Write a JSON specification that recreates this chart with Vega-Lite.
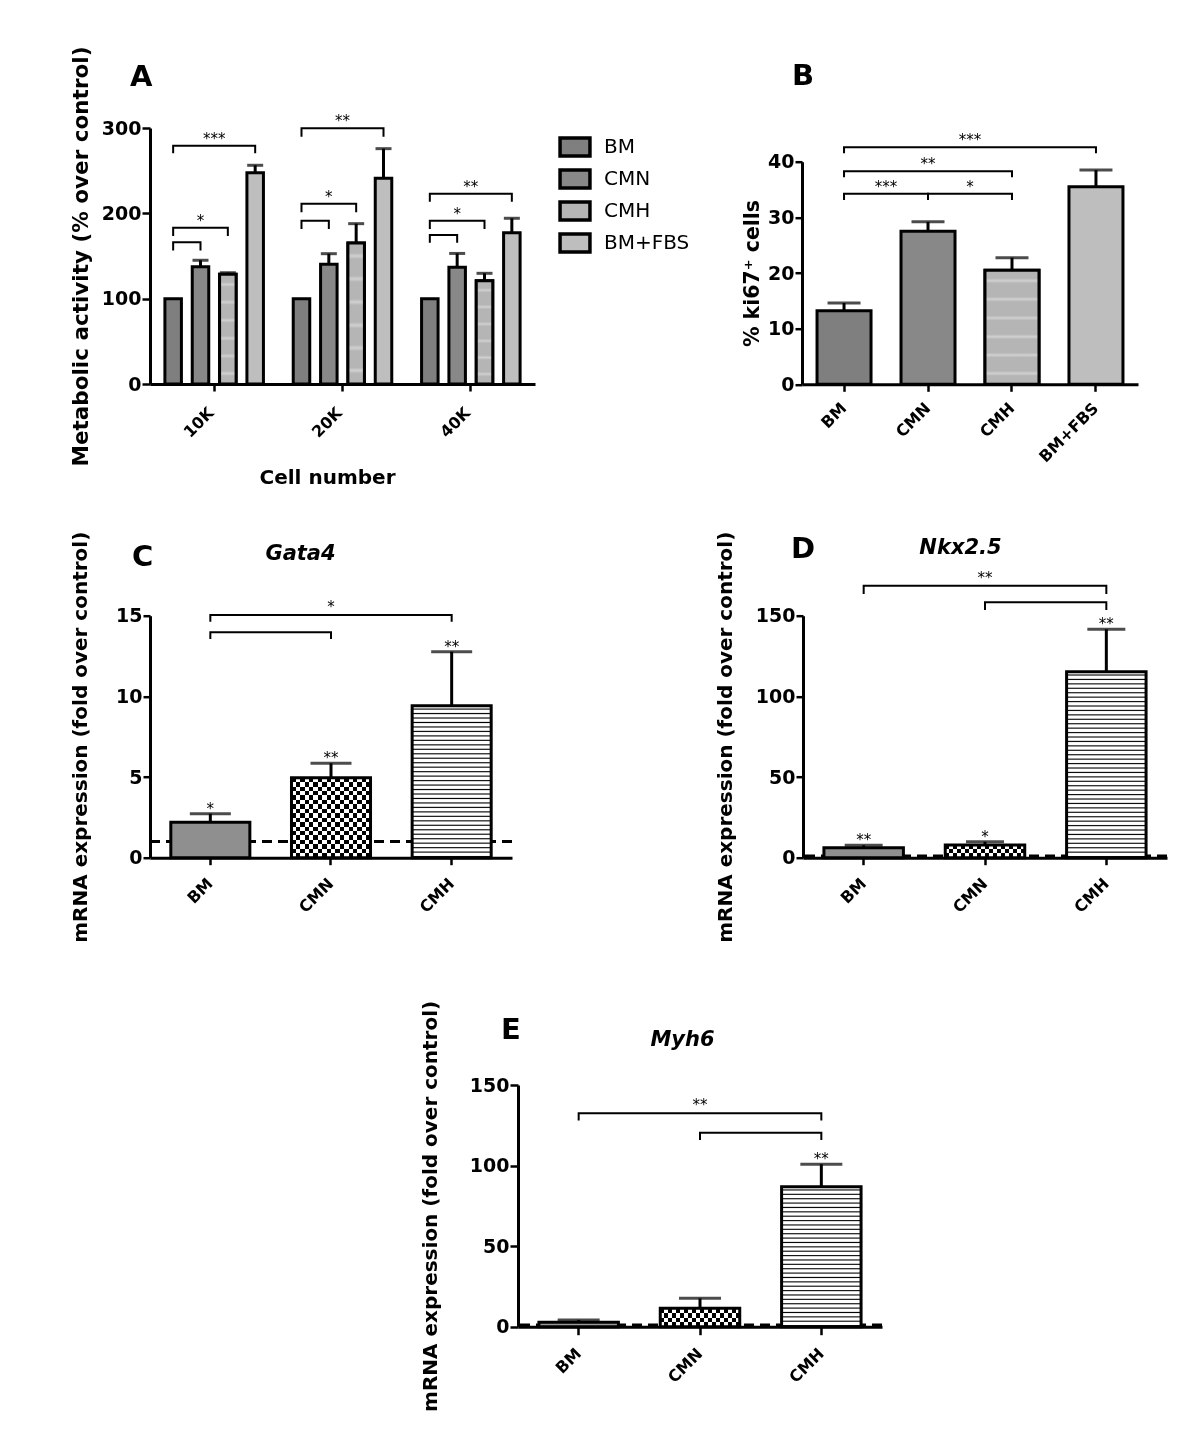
{
"$schema": "https://vega.github.io/schema/vega-lite/v6.json",
"background": "white",
"padding": {"left": 70, "top": 46, "right": 10, "bottom": 10},
"config": {
 "view": {"stroke": null},
 "font": "DejaVu Sans",
 "axis": {"domainColor": "#000", "domainWidth": 3, "tickColor": "#000", "tickWidth": 2.5, "tickSize": 8, "labelFont": "DejaVu Sans", "labelFontWeight": "bold", "labelFontSize": 19, "labelColor": "#000", "titleFont": "DejaVu Sans", "titleFontWeight": "bold", "titleFontSize": 20, "titleColor": "#000", "grid": false, "labelPadding": 1},
 "axisX": {"labelAngle": -45, "labelAlign": "right", "labelBaseline": "middle", "labelFontSize": 16, "labelPadding": 16, "tickSize": 7},
 "title": {"font": "DejaVu Sans", "fontSize": 29, "fontWeight": "bold", "color": "#000", "anchor": "start", "frame": "group"},
 "text": {"font": "DejaVu Sans", "fontSize": 15, "color": "#000"}
},
"datasets": {
 "aBars": [{"n":"10K","c":"BM","v":100},{"n":"10K","c":"CMN","v":137.5,"e":145},{"n":"10K","c":"CMH","v":128.5,"e":130.4},{"n":"10K","c":"BM+FBS","v":247.6,"e":256.3},{"n":"20K","c":"BM","v":100},{"n":"20K","c":"CMN","v":140.2,"e":152.7},{"n":"20K","c":"CMH","v":165.2,"e":187.9},{"n":"20K","c":"BM+FBS","v":241,"e":275.8},{"n":"40K","c":"BM","v":100},{"n":"40K","c":"CMN","v":136.7,"e":153},{"n":"40K","c":"CMH","v":121,"e":129.7},{"n":"40K","c":"BM+FBS","v":177.3,"e":194.2}],
 "aBr": [
  {"n":"10K","id":"a1","o":0,"c":"BM","v":156.3},{"n":"10K","id":"a1","o":1,"c":"BM","v":166},{"n":"10K","id":"a1","o":2,"c":"CMN","v":166},{"n":"10K","id":"a1","o":3,"c":"CMN","v":156.3},
  {"n":"10K","id":"a2","o":0,"c":"BM","v":173.4},{"n":"10K","id":"a2","o":1,"c":"BM","v":183.2},{"n":"10K","id":"a2","o":2,"c":"CMH","v":183.2},{"n":"10K","id":"a2","o":3,"c":"CMH","v":173.4},
  {"n":"10K","id":"a3","o":0,"c":"BM","v":270.3},{"n":"10K","id":"a3","o":1,"c":"BM","v":279.3},{"n":"10K","id":"a3","o":2,"c":"BM+FBS","v":279.3},{"n":"10K","id":"a3","o":3,"c":"BM+FBS","v":270.3},
  {"n":"20K","id":"a4","o":0,"c":"BM","v":181.6},{"n":"20K","id":"a4","o":1,"c":"BM","v":191.4},{"n":"20K","id":"a4","o":2,"c":"CMN","v":191.4},{"n":"20K","id":"a4","o":3,"c":"CMN","v":181.6},
  {"n":"20K","id":"a5","o":0,"c":"BM","v":201.2},{"n":"20K","id":"a5","o":1,"c":"BM","v":211.3},{"n":"20K","id":"a5","o":2,"c":"CMH","v":211.3},{"n":"20K","id":"a5","o":3,"c":"CMH","v":201.2},
  {"n":"20K","id":"a6","o":0,"c":"BM","v":289.8},{"n":"20K","id":"a6","o":1,"c":"BM","v":299.6},{"n":"20K","id":"a6","o":2,"c":"BM+FBS","v":299.6},{"n":"20K","id":"a6","o":3,"c":"BM+FBS","v":289.8},
  {"n":"40K","id":"a7","o":0,"c":"BM","v":165.6},{"n":"40K","id":"a7","o":1,"c":"BM","v":174.6},{"n":"40K","id":"a7","o":2,"c":"CMN","v":174.6},{"n":"40K","id":"a7","o":3,"c":"CMN","v":165.6},
  {"n":"40K","id":"a8","o":0,"c":"BM","v":181.6},{"n":"40K","id":"a8","o":1,"c":"BM","v":191.4},{"n":"40K","id":"a8","o":2,"c":"CMH","v":191.4},{"n":"40K","id":"a8","o":3,"c":"CMH","v":181.6},
  {"n":"40K","id":"a9","o":0,"c":"BM","v":213.6},{"n":"40K","id":"a9","o":1,"c":"BM","v":223},{"n":"40K","id":"a9","o":2,"c":"BM+FBS","v":223},{"n":"40K","id":"a9","o":3,"c":"BM+FBS","v":213.6}],
 "aStarC": [{"n":"10K","v":279.3,"t":"***"},{"n":"20K","v":299.6,"t":"**"},{"n":"40K","v":223,"t":"**"}],
 "aStarO": [{"n":"10K","c":"CMN","v":183.2,"t":"*"},{"n":"20K","c":"CMN","v":211.3,"t":"*"},{"n":"40K","c":"CMN","v":191.4,"t":"*"}],
 "bBars": [{"c":"BM","v":13.2,"e":14.6},{"c":"CMN","v":27.5,"e":29.2},{"c":"CMH","v":20.5,"e":22.75},{"c":"BM+FBS","v":35.5,"e":38.5}],
 "bBr": [
  {"id":"b1","o":0,"c":"BM","v":33.1},{"id":"b1","o":1,"c":"BM","v":34.25},{"id":"b1","o":2,"c":"CMN","v":34.25},{"id":"b1","o":3,"c":"CMN","v":33.1},
  {"id":"b2","o":0,"c":"CMN","v":33.1},{"id":"b2","o":1,"c":"CMN","v":34.25},{"id":"b2","o":2,"c":"CMH","v":34.25},{"id":"b2","o":3,"c":"CMH","v":33.1},
  {"id":"b3","o":0,"c":"BM","v":37.2},{"id":"b3","o":1,"c":"BM","v":38.3},{"id":"b3","o":2,"c":"CMH","v":38.3},{"id":"b3","o":3,"c":"CMH","v":37.2},
  {"id":"b4","o":0,"c":"BM","v":41.5},{"id":"b4","o":1,"c":"BM","v":42.6},{"id":"b4","o":2,"c":"BM+FBS","v":42.6},{"id":"b4","o":3,"c":"BM+FBS","v":41.5}],
 "bStarC": [{"c":"CMN","v":38.3,"t":"**"}],
 "bStarM": [{"c":"BM","v":34.25,"t":"***"},{"c":"CMN","v":34.25,"t":"*"},{"c":"CMN","v":42.6,"t":"***"}],
 "cBars": [{"c":"BM","v":2.19,"e":2.73},{"c":"CMN","v":4.96,"e":5.85},{"c":"CMH","v":9.42,"e":12.77}],
 "cBr": [
  {"id":"c1","o":0,"c":"BM","v":13.56},{"id":"c1","o":1,"c":"BM","v":13.97},{"id":"c1","o":2,"c":"CMN","v":13.97},{"id":"c1","o":3,"c":"CMN","v":13.56},
  {"id":"c2","o":0,"c":"BM","v":14.63},{"id":"c2","o":1,"c":"BM","v":15.04},{"id":"c2","o":2,"c":"CMH","v":15.04},{"id":"c2","o":3,"c":"CMH","v":14.63}],
 "cStarBr": [{"c":"CMN","v":15.04,"t":"*"}],
 "cStarBar": [{"c":"BM","v":2.73,"t":"*"},{"c":"CMN","v":5.85,"t":"**"},{"c":"CMH","v":12.77,"t":"**"}],
 "dBars": [{"c":"BM","v":6.2,"e":7.7},{"c":"CMN","v":7.9,"e":9.9},{"c":"CMH","v":115.3,"e":141.6}],
 "dBr": [
  {"id":"d1","o":0,"c":"BM","v":163.4},{"id":"d1","o":1,"c":"BM","v":168.6},{"id":"d1","o":2,"c":"CMH","v":168.6},{"id":"d1","o":3,"c":"CMH","v":163.4},
  {"id":"d2","o":0,"c":"CMN","v":153.5},{"id":"d2","o":1,"c":"CMN","v":158.3},{"id":"d2","o":2,"c":"CMH","v":158.3},{"id":"d2","o":3,"c":"CMH","v":153.5}],
 "dStarBr": [{"c":"CMN","v":168.6,"t":"**"}],
 "dStarBar": [{"c":"BM","v":7.7,"t":"**"},{"c":"CMN","v":9.9,"t":"*"},{"c":"CMH","v":141.6,"t":"**"}],
 "eBars": [{"c":"BM","v":2.7,"e":4.2},{"c":"CMN","v":11.4,"e":17.6},{"c":"CMH","v":86.9,"e":100.8}],
 "eBr": [
  {"id":"e1","o":0,"c":"BM","v":127.9},{"id":"e1","o":1,"c":"BM","v":132.4},{"id":"e1","o":2,"c":"CMH","v":132.4},{"id":"e1","o":3,"c":"CMH","v":127.9},
  {"id":"e2","o":0,"c":"CMN","v":115.9},{"id":"e2","o":1,"c":"CMN","v":120.4},{"id":"e2","o":2,"c":"CMH","v":120.4},{"id":"e2","o":3,"c":"CMH","v":115.9}],
 "eStarBr": [{"c":"CMN","v":132.4,"t":"**"}],
 "eStarBar": [{"c":"CMH","v":100.8,"t":"**"}]
},
"bounds": "flush",
"spacing": 957,
"resolve": {"scale": {"fill": "independent"}, "legend": {"fill": "independent"}},
"vconcat": [
 {"bounds": "flush", "spacing": 487.7,
  "resolve": {"scale": {"fill": "independent"}, "legend": {"fill": "independent"}},
  "vconcat": [
  {"bounds": "flush", "spacing": 267,
   "resolve": {"scale": {"fill": "independent"}, "legend": {"fill": "independent"}},
   "hconcat": [
   {"width": 385, "height": 256,
    "title": {"text": "A", "dx": -20, "offset": -46},
    "layer": [
     {"data": {"name": "aBars"}, "mark": {"type": "bar", "stroke": "#000", "strokeWidth": 3},
      "encoding": {
       "x": {"field": "n", "type": "nominal", "scale": {"domain": ["10K","20K","40K"], "paddingInner": 0, "paddingOuter": 0}, "axis": {"title": "Cell number", "titlePadding": 27, "titleX": 177, "titleAlign": "center", "labelPadding": 19, "labelOffset": -3}},
       "xOffset": {"field": "c", "type": "nominal", "scale": {"domain": ["BM","CMN","CMH","BM+FBS"], "paddingInner": 0.396, "paddingOuter": 0.545}},
       "y": {"field": "v", "type": "quantitative", "scale": {"domain": [0,300], "nice": false}, "axis": {"values": [0,100,200,300], "title": "Metabolic activity (% over control)", "titleFontSize": 21.5, "titlePadding": 9}},
       "fill": {"field": "c", "type": "nominal", "scale": {"domain": ["BM","CMN","CMH","BM+FBS"], "range": ["#7f7f7f","#888888","#b5b5b5","#bebebe"]},
        "legend": {"title": null, "orient": "right", "offset": 21, "padding": 4, "symbolType": "M-1.15,-0.69H1.15V0.69H-1.15Z", "symbolSize": 676, "symbolStrokeColor": "#000", "symbolStrokeWidth": 3.5, "symbolOpacity": 1, "labelFont": "DejaVu Sans", "labelFontSize": 20, "labelColor": "#000", "labelOffset": 14, "rowPadding": 0}}
      }},
     {"data": {"name": "aBars"}, "transform": [{"filter": "datum.c == 'CMH'"}],
      "mark": {"type": "bar", "stroke": "#000", "strokeWidth": 3, "fill": {"gradient": "linear", "x1": 0, "y1": 0, "x2": 0, "y2": 1, "stops": [{"offset":0,"color":"#b5b5b5"},{"offset":0.07,"color":"#b5b5b5"},{"offset":0.092,"color":"#d0d0d0"},{"offset":0.114,"color":"#b5b5b5"},{"offset":0.232,"color":"#b5b5b5"},{"offset":0.254,"color":"#d0d0d0"},{"offset":0.276,"color":"#b5b5b5"},{"offset":0.397,"color":"#b5b5b5"},{"offset":0.419,"color":"#d0d0d0"},{"offset":0.441,"color":"#b5b5b5"},{"offset":0.561,"color":"#b5b5b5"},{"offset":0.583,"color":"#d0d0d0"},{"offset":0.605,"color":"#b5b5b5"},{"offset":0.722,"color":"#b5b5b5"},{"offset":0.744,"color":"#d0d0d0"},{"offset":0.766,"color":"#b5b5b5"},{"offset":0.882,"color":"#b5b5b5"},{"offset":0.904,"color":"#d0d0d0"},{"offset":0.926,"color":"#b5b5b5"},{"offset":1,"color":"#b5b5b5"}]}},
      "encoding": {"x": {"field": "n", "type": "nominal"}, "xOffset": {"field": "c", "type": "nominal"}, "y": {"field": "v", "type": "quantitative"}}},
     {"data": {"name": "aBars"}, "transform": [{"filter": "datum.e != null"}], "mark": {"type": "rule", "strokeWidth": 3, "color": "#000"},
      "encoding": {"x": {"field": "n", "type": "nominal"}, "xOffset": {"field": "c", "type": "nominal"}, "y": {"field": "v", "type": "quantitative"}, "y2": {"field": "e"}}},
     {"data": {"name": "aBars"}, "transform": [{"filter": "datum.e != null"}], "mark": {"type": "tick", "thickness": 3, "size": 16, "color": "#000"},
      "encoding": {"x": {"field": "n", "type": "nominal"}, "xOffset": {"field": "c", "type": "nominal"}, "y": {"field": "e", "type": "quantitative"}}},
     {"data": {"name": "aBr"}, "mark": {"type": "line", "strokeWidth": 2, "color": "#000"},
      "encoding": {"x": {"field": "n", "type": "nominal"}, "xOffset": {"field": "c", "type": "nominal"}, "y": {"field": "v", "type": "quantitative"}, "detail": {"field": "id"}, "order": {"field": "o", "type": "quantitative"}}},
     {"data": {"name": "aStarC"}, "mark": {"type": "text", "baseline": "alphabetic", "dy": -2},
      "encoding": {"x": {"field": "n", "type": "nominal"}, "y": {"field": "v", "type": "quantitative"}, "text": {"field": "t"}}},
     {"data": {"name": "aStarO"}, "mark": {"type": "text", "baseline": "alphabetic", "dy": -2},
      "encoding": {"x": {"field": "n", "type": "nominal"}, "xOffset": {"field": "c", "type": "nominal"}, "y": {"field": "v", "type": "quantitative"}, "text": {"field": "t"}}}
    ]},
   {"bounds": "flush", "spacing": 32.7,
    "vconcat": [
     {"width": 336, "height": 1, "data": {"values": []}, "mark": "point"},
     {"width": 336, "height": 222.6,
      "title": {"text": "B", "dx": -10, "offset": 42},
      "layer": [
       {"data": {"name": "bBars"}, "mark": {"type": "bar", "stroke": "#000", "strokeWidth": 3},
        "encoding": {
         "x": {"field": "c", "type": "nominal", "scale": {"domain": ["BM","CMN","CMH","BM+FBS"], "paddingInner": 0.357, "paddingOuter": 0.179}, "axis": {"title": null, "labelPadding": 14}},
         "y": {"field": "v", "type": "quantitative", "scale": {"domain": [0,40], "nice": false}, "axis": {"values": [0,10,20,30,40], "title": "% ki67⁺ cells", "titleFontSize": 20.5, "titlePadding": 5, "tickSize": 7}},
         "fill": {"field": "c", "type": "nominal", "scale": {"domain": ["BM","CMN","CMH","BM+FBS"], "range": ["#7f7f7f","#888888","#b5b5b5","#bebebe"]}, "legend": null}
        }},
       {"data": {"name": "bBars"}, "transform": [{"filter": "datum.c == 'CMH'"}],
        "mark": {"type": "bar", "stroke": "#000", "strokeWidth": 3, "fill": {"gradient": "linear", "x1": 0, "y1": 0, "x2": 0, "y2": 1, "stops": [{"offset":0,"color":"#b5b5b5"},{"offset":0.07,"color":"#b5b5b5"},{"offset":0.092,"color":"#d0d0d0"},{"offset":0.114,"color":"#b5b5b5"},{"offset":0.232,"color":"#b5b5b5"},{"offset":0.254,"color":"#d0d0d0"},{"offset":0.276,"color":"#b5b5b5"},{"offset":0.397,"color":"#b5b5b5"},{"offset":0.419,"color":"#d0d0d0"},{"offset":0.441,"color":"#b5b5b5"},{"offset":0.561,"color":"#b5b5b5"},{"offset":0.583,"color":"#d0d0d0"},{"offset":0.605,"color":"#b5b5b5"},{"offset":0.722,"color":"#b5b5b5"},{"offset":0.744,"color":"#d0d0d0"},{"offset":0.766,"color":"#b5b5b5"},{"offset":0.882,"color":"#b5b5b5"},{"offset":0.904,"color":"#d0d0d0"},{"offset":0.926,"color":"#b5b5b5"},{"offset":1,"color":"#b5b5b5"}]}},
        "encoding": {"x": {"field": "c", "type": "nominal"}, "y": {"field": "v", "type": "quantitative"}}},
       {"data": {"name": "bBars"}, "mark": {"type": "rule", "strokeWidth": 3, "color": "#000"},
        "encoding": {"x": {"field": "c", "type": "nominal"}, "y": {"field": "v", "type": "quantitative"}, "y2": {"field": "e"}}},
       {"data": {"name": "bBars"}, "mark": {"type": "tick", "thickness": 3, "size": 33, "color": "#000"},
        "encoding": {"x": {"field": "c", "type": "nominal"}, "y": {"field": "e", "type": "quantitative"}}},
       {"data": {"name": "bBr"}, "mark": {"type": "line", "strokeWidth": 2, "color": "#000"},
        "encoding": {"x": {"field": "c", "type": "nominal"}, "y": {"field": "v", "type": "quantitative"}, "detail": {"field": "id"}, "order": {"field": "o", "type": "quantitative"}}},
       {"data": {"name": "bStarC"}, "mark": {"type": "text", "baseline": "alphabetic", "dy": -2},
        "encoding": {"x": {"field": "c", "type": "nominal"}, "y": {"field": "v", "type": "quantitative"}, "text": {"field": "t"}}},
       {"data": {"name": "bStarM"}, "mark": {"type": "text", "baseline": "alphabetic", "dy": -2, "dx": 42},
        "encoding": {"x": {"field": "c", "type": "nominal"}, "y": {"field": "v", "type": "quantitative"}, "text": {"field": "t"}}}
      ]}
    ]}
  ]},
  {"bounds": "flush", "spacing": 291,
   "hconcat": [
   {"width": 362, "height": 242,
    "title": {"text": "C", "dx": -18, "offset": -41},
    "resolve": {"axis": {"x": "independent"}},
    "layer": [
     {"data": {"values": [{}]}, "mark": {"type": "rule", "strokeDash": [10,6], "strokeWidth": 3, "color": "#000"}, "encoding": {"y": {"datum": 1}}},
     {"data": {"name": "cBars"}, "transform": [{"filter": "datum.c == 'BM'"}], "mark": {"type": "bar", "fill": "#8f8f8f", "stroke": "#000", "strokeWidth": 3},
      "encoding": {
       "x": {"field": "c", "type": "nominal", "scale": {"domain": ["BM","CMN","CMH"], "paddingInner": 0.345, "paddingOuter": 0.1725}, "axis": {"title": null}},
       "y": {"field": "v", "type": "quantitative", "scale": {"domain": [0,15], "nice": false}, "axis": {"values": [0,5,10,15], "title": "mRNA expression (fold over control)", "titlePadding": 25, "tickSize": 7}}}},
     {"data": {"name": "cBars"}, "transform": [{"filter": "datum.c == 'CMN'"}],
      "mark": {"type": "bar", "fill": {"gradient": "linear", "x1": 0, "y1": 0, "x2": 1, "y2": 0, "stops": [{"offset":0,"color":"#fff"},{"offset":0.0556,"color":"#fff"},{"offset":0.0556,"color":"#000"},{"offset":0.1111,"color":"#000"},{"offset":0.1111,"color":"#fff"},{"offset":0.1667,"color":"#fff"},{"offset":0.1667,"color":"#000"},{"offset":0.2222,"color":"#000"},{"offset":0.2222,"color":"#fff"},{"offset":0.2778,"color":"#fff"},{"offset":0.2778,"color":"#000"},{"offset":0.3333,"color":"#000"},{"offset":0.3333,"color":"#fff"},{"offset":0.3889,"color":"#fff"},{"offset":0.3889,"color":"#000"},{"offset":0.4444,"color":"#000"},{"offset":0.4444,"color":"#fff"},{"offset":0.5,"color":"#fff"},{"offset":0.5,"color":"#000"},{"offset":0.5556,"color":"#000"},{"offset":0.5556,"color":"#fff"},{"offset":0.6111,"color":"#fff"},{"offset":0.6111,"color":"#000"},{"offset":0.6667,"color":"#000"},{"offset":0.6667,"color":"#fff"},{"offset":0.7222,"color":"#fff"},{"offset":0.7222,"color":"#000"},{"offset":0.7778,"color":"#000"},{"offset":0.7778,"color":"#fff"},{"offset":0.8333,"color":"#fff"},{"offset":0.8333,"color":"#000"},{"offset":0.8889,"color":"#000"},{"offset":0.8889,"color":"#fff"},{"offset":0.9444,"color":"#fff"},{"offset":0.9444,"color":"#000"},{"offset":1,"color":"#000"}]}},
      "encoding": {"x": {"field": "c", "type": "nominal", "axis": null}, "y": {"field": "v", "type": "quantitative"}}},
     {"data": {"name": "cBars"}, "transform": [{"filter": "datum.c == 'CMN'"}],
      "mark": {"type": "bar", "blend": "difference", "fill": {"gradient": "linear", "x1": 0, "y1": 0, "x2": 0, "y2": 1, "stops": [{"offset":0,"color":"#fff"},{"offset":0.0556,"color":"#fff"},{"offset":0.0556,"color":"#000"},{"offset":0.1111,"color":"#000"},{"offset":0.1111,"color":"#fff"},{"offset":0.1667,"color":"#fff"},{"offset":0.1667,"color":"#000"},{"offset":0.2222,"color":"#000"},{"offset":0.2222,"color":"#fff"},{"offset":0.2778,"color":"#fff"},{"offset":0.2778,"color":"#000"},{"offset":0.3333,"color":"#000"},{"offset":0.3333,"color":"#fff"},{"offset":0.3889,"color":"#fff"},{"offset":0.3889,"color":"#000"},{"offset":0.4444,"color":"#000"},{"offset":0.4444,"color":"#fff"},{"offset":0.5,"color":"#fff"},{"offset":0.5,"color":"#000"},{"offset":0.5556,"color":"#000"},{"offset":0.5556,"color":"#fff"},{"offset":0.6111,"color":"#fff"},{"offset":0.6111,"color":"#000"},{"offset":0.6667,"color":"#000"},{"offset":0.6667,"color":"#fff"},{"offset":0.7222,"color":"#fff"},{"offset":0.7222,"color":"#000"},{"offset":0.7778,"color":"#000"},{"offset":0.7778,"color":"#fff"},{"offset":0.8333,"color":"#fff"},{"offset":0.8333,"color":"#000"},{"offset":0.8889,"color":"#000"},{"offset":0.8889,"color":"#fff"},{"offset":0.9444,"color":"#fff"},{"offset":0.9444,"color":"#000"},{"offset":1,"color":"#000"}]}},
      "encoding": {"x": {"field": "c", "type": "nominal", "axis": null}, "y": {"field": "v", "type": "quantitative"}}},
     {"data": {"name": "cBars"}, "transform": [{"filter": "datum.c == 'CMN'"}], "mark": {"type": "bar", "fillOpacity": 0, "stroke": "#000", "strokeWidth": 3},
      "encoding": {"x": {"field": "c", "type": "nominal", "axis": null}, "y": {"field": "v", "type": "quantitative"}}},
     {"data": {"name": "cBars"}, "transform": [{"filter": "datum.c == 'CMH'"}],
      "mark": {"type": "bar", "stroke": "#000", "strokeWidth": 3, "fill": {"gradient": "linear", "x1": 0, "y1": 0, "x2": 0, "y2": 1, "stops": [{"offset":0,"color":"#fff"},
{"offset":0.0147,"color":"#fff"},{"offset":0.0221,"color":"#000"},{"offset":0.0294,"color":"#fff"},
{"offset":0.0441,"color":"#fff"},{"offset":0.0515,"color":"#000"},{"offset":0.0588,"color":"#fff"},
{"offset":0.0735,"color":"#fff"},{"offset":0.0809,"color":"#000"},{"offset":0.0882,"color":"#fff"},
{"offset":0.1029,"color":"#fff"},{"offset":0.1103,"color":"#000"},{"offset":0.1176,"color":"#fff"},
{"offset":0.1324,"color":"#fff"},{"offset":0.1397,"color":"#000"},{"offset":0.1471,"color":"#fff"},
{"offset":0.1618,"color":"#fff"},{"offset":0.1691,"color":"#000"},{"offset":0.1765,"color":"#fff"},
{"offset":0.1912,"color":"#fff"},{"offset":0.1985,"color":"#000"},{"offset":0.2059,"color":"#fff"},
{"offset":0.2206,"color":"#fff"},{"offset":0.2279,"color":"#000"},{"offset":0.2353,"color":"#fff"},
{"offset":0.25,"color":"#fff"},{"offset":0.2574,"color":"#000"},{"offset":0.2647,"color":"#fff"},
{"offset":0.2794,"color":"#fff"},{"offset":0.2868,"color":"#000"},{"offset":0.2941,"color":"#fff"},
{"offset":0.3088,"color":"#fff"},{"offset":0.3162,"color":"#000"},{"offset":0.3235,"color":"#fff"},
{"offset":0.3382,"color":"#fff"},{"offset":0.3456,"color":"#000"},{"offset":0.3529,"color":"#fff"},
{"offset":0.3676,"color":"#fff"},{"offset":0.375,"color":"#000"},{"offset":0.3824,"color":"#fff"},
{"offset":0.3971,"color":"#fff"},{"offset":0.4044,"color":"#000"},{"offset":0.4118,"color":"#fff"},
{"offset":0.4265,"color":"#fff"},{"offset":0.4338,"color":"#000"},{"offset":0.4412,"color":"#fff"},
{"offset":0.4559,"color":"#fff"},{"offset":0.4632,"color":"#000"},{"offset":0.4706,"color":"#fff"},
{"offset":0.4853,"color":"#fff"},{"offset":0.4926,"color":"#000"},{"offset":0.5,"color":"#fff"},
{"offset":0.5147,"color":"#fff"},{"offset":0.5221,"color":"#000"},{"offset":0.5294,"color":"#fff"},
{"offset":0.5441,"color":"#fff"},{"offset":0.5515,"color":"#000"},{"offset":0.5588,"color":"#fff"},
{"offset":0.5735,"color":"#fff"},{"offset":0.5809,"color":"#000"},{"offset":0.5882,"color":"#fff"},
{"offset":0.6029,"color":"#fff"},{"offset":0.6103,"color":"#000"},{"offset":0.6176,"color":"#fff"},
{"offset":0.6324,"color":"#fff"},{"offset":0.6397,"color":"#000"},{"offset":0.6471,"color":"#fff"},
{"offset":0.6618,"color":"#fff"},{"offset":0.6691,"color":"#000"},{"offset":0.6765,"color":"#fff"},
{"offset":0.6912,"color":"#fff"},{"offset":0.6985,"color":"#000"},{"offset":0.7059,"color":"#fff"},
{"offset":0.7206,"color":"#fff"},{"offset":0.7279,"color":"#000"},{"offset":0.7353,"color":"#fff"},
{"offset":0.75,"color":"#fff"},{"offset":0.7574,"color":"#000"},{"offset":0.7647,"color":"#fff"},
{"offset":0.7794,"color":"#fff"},{"offset":0.7868,"color":"#000"},{"offset":0.7941,"color":"#fff"},
{"offset":0.8088,"color":"#fff"},{"offset":0.8162,"color":"#000"},{"offset":0.8235,"color":"#fff"},
{"offset":0.8382,"color":"#fff"},{"offset":0.8456,"color":"#000"},{"offset":0.8529,"color":"#fff"},
{"offset":0.8676,"color":"#fff"},{"offset":0.875,"color":"#000"},{"offset":0.8824,"color":"#fff"},
{"offset":0.8971,"color":"#fff"},{"offset":0.9044,"color":"#000"},{"offset":0.9118,"color":"#fff"},
{"offset":0.9265,"color":"#fff"},{"offset":0.9338,"color":"#000"},{"offset":0.9412,"color":"#fff"},
{"offset":0.9559,"color":"#fff"},{"offset":0.9632,"color":"#000"},{"offset":0.9706,"color":"#fff"},
{"offset":0.9853,"color":"#fff"},{"offset":0.9926,"color":"#000"},{"offset":1,"color":"#fff"}]}},
      "encoding": {"x": {"field": "c", "type": "nominal", "axis": null}, "y": {"field": "v", "type": "quantitative"}}},
     {"data": {"name": "cBars"}, "mark": {"type": "rule", "strokeWidth": 3, "color": "#000"},
      "encoding": {"x": {"field": "c", "type": "nominal", "axis": null}, "y": {"field": "v", "type": "quantitative"}, "y2": {"field": "e"}}},
     {"data": {"name": "cBars"}, "mark": {"type": "tick", "thickness": 3, "size": 41, "color": "#000"},
      "encoding": {"x": {"field": "c", "type": "nominal", "axis": null}, "y": {"field": "e", "type": "quantitative"}}},
     {"data": {"name": "cBr"}, "mark": {"type": "line", "strokeWidth": 2, "color": "#000"},
      "encoding": {"x": {"field": "c", "type": "nominal", "axis": null}, "y": {"field": "v", "type": "quantitative"}, "detail": {"field": "id"}, "order": {"field": "o", "type": "quantitative"}}},
     {"data": {"name": "cStarBr"}, "mark": {"type": "text", "baseline": "alphabetic", "dy": -3},
      "encoding": {"x": {"field": "c", "type": "nominal", "axis": null}, "y": {"field": "v", "type": "quantitative"}, "text": {"field": "t"}}},
     {"data": {"name": "cStarBar"}, "mark": {"type": "text", "baseline": "alphabetic", "dy": 0},
      "encoding": {"x": {"field": "c", "type": "nominal", "axis": {"orient": "top", "title": "Gata4", "titleFontStyle": "italic", "titleFontSize": 21, "titlePadding": 52, "titleX": 150, "domain": false, "ticks": false, "labels": false}}, "y": {"field": "v", "type": "quantitative"}, "text": {"field": "t"}}}
    ]},
   {"width": 364, "height": 242,
    "title": {"text": "D", "dx": -12, "offset": -32.7},
    "resolve": {"axis": {"x": "independent"}},
    "layer": [
     {"data": {"values": [{}]}, "mark": {"type": "rule", "strokeDash": [10,6], "strokeWidth": 3, "color": "#000"}, "encoding": {"y": {"datum": 1}}},
     {"data": {"name": "dBars"}, "transform": [{"filter": "datum.c == 'BM'"}], "mark": {"type": "bar", "fill": "#8f8f8f", "stroke": "#000", "strokeWidth": 3},
      "encoding": {
       "x": {"field": "c", "type": "nominal", "scale": {"domain": ["BM","CMN","CMH"], "paddingInner": 0.345, "paddingOuter": 0.1725}, "axis": {"title": null}},
       "y": {"field": "v", "type": "quantitative", "scale": {"domain": [0,150], "nice": false}, "axis": {"values": [0,50,100,150], "title": "mRNA expression (fold over control)", "titlePadding": 20, "tickSize": 7}}}},
     {"data": {"name": "dBars"}, "transform": [{"filter": "datum.c == 'CMN'"}],
      "mark": {"type": "bar", "fill": {"gradient": "linear", "x1": 0, "y1": 0, "x2": 1, "y2": 0, "stops": [{"offset":0,"color":"#fff"},{"offset":0.05,"color":"#fff"},{"offset":0.05,"color":"#000"},{"offset":0.1,"color":"#000"},{"offset":0.1,"color":"#fff"},{"offset":0.15,"color":"#fff"},{"offset":0.15,"color":"#000"},{"offset":0.2,"color":"#000"},{"offset":0.2,"color":"#fff"},{"offset":0.25,"color":"#fff"},{"offset":0.25,"color":"#000"},{"offset":0.3,"color":"#000"},{"offset":0.3,"color":"#fff"},{"offset":0.35,"color":"#fff"},{"offset":0.35,"color":"#000"},{"offset":0.4,"color":"#000"},{"offset":0.4,"color":"#fff"},{"offset":0.45,"color":"#fff"},{"offset":0.45,"color":"#000"},{"offset":0.5,"color":"#000"},{"offset":0.5,"color":"#fff"},{"offset":0.55,"color":"#fff"},{"offset":0.55,"color":"#000"},{"offset":0.6,"color":"#000"},{"offset":0.6,"color":"#fff"},{"offset":0.65,"color":"#fff"},{"offset":0.65,"color":"#000"},{"offset":0.7,"color":"#000"},{"offset":0.7,"color":"#fff"},{"offset":0.75,"color":"#fff"},{"offset":0.75,"color":"#000"},{"offset":0.8,"color":"#000"},{"offset":0.8,"color":"#fff"},{"offset":0.85,"color":"#fff"},{"offset":0.85,"color":"#000"},{"offset":0.9,"color":"#000"},{"offset":0.9,"color":"#fff"},{"offset":0.95,"color":"#fff"},{"offset":0.95,"color":"#000"},{"offset":1,"color":"#000"}]}},
      "encoding": {"x": {"field": "c", "type": "nominal", "axis": null}, "y": {"field": "v", "type": "quantitative"}}},
     {"data": {"name": "dBars"}, "transform": [{"filter": "datum.c == 'CMN'"}],
      "mark": {"type": "bar", "blend": "difference", "fill": {"gradient": "linear", "x1": 0, "y1": 0, "x2": 0, "y2": 1, "stops": [{"offset":0,"color":"#fff"},{"offset":0.3333,"color":"#fff"},{"offset":0.3333,"color":"#000"},{"offset":0.6667,"color":"#000"},{"offset":0.6667,"color":"#fff"},{"offset":1,"color":"#fff"}]}},
      "encoding": {"x": {"field": "c", "type": "nominal", "axis": null}, "y": {"field": "v", "type": "quantitative"}}},
     {"data": {"name": "dBars"}, "transform": [{"filter": "datum.c == 'CMN'"}], "mark": {"type": "bar", "fillOpacity": 0, "stroke": "#000", "strokeWidth": 3},
      "encoding": {"x": {"field": "c", "type": "nominal", "axis": null}, "y": {"field": "v", "type": "quantitative"}}},
     {"data": {"name": "dBars"}, "transform": [{"filter": "datum.c == 'CMH'"}],
      "mark": {"type": "bar", "stroke": "#000", "strokeWidth": 3, "fill": {"gradient": "linear", "x1": 0, "y1": 0, "x2": 0, "y2": 1, "stops": [{"offset":0,"color":"#fff"},
{"offset":0.0119,"color":"#fff"},{"offset":0.0179,"color":"#000"},{"offset":0.0238,"color":"#fff"},
{"offset":0.0357,"color":"#fff"},{"offset":0.0417,"color":"#000"},{"offset":0.0476,"color":"#fff"},
{"offset":0.0595,"color":"#fff"},{"offset":0.0655,"color":"#000"},{"offset":0.0714,"color":"#fff"},
{"offset":0.0833,"color":"#fff"},{"offset":0.0893,"color":"#000"},{"offset":0.0952,"color":"#fff"},
{"offset":0.1071,"color":"#fff"},{"offset":0.1131,"color":"#000"},{"offset":0.119,"color":"#fff"},
{"offset":0.131,"color":"#fff"},{"offset":0.1369,"color":"#000"},{"offset":0.1429,"color":"#fff"},
{"offset":0.1548,"color":"#fff"},{"offset":0.1607,"color":"#000"},{"offset":0.1667,"color":"#fff"},
{"offset":0.1786,"color":"#fff"},{"offset":0.1845,"color":"#000"},{"offset":0.1905,"color":"#fff"},
{"offset":0.2024,"color":"#fff"},{"offset":0.2083,"color":"#000"},{"offset":0.2143,"color":"#fff"},
{"offset":0.2262,"color":"#fff"},{"offset":0.2321,"color":"#000"},{"offset":0.2381,"color":"#fff"},
{"offset":0.25,"color":"#fff"},{"offset":0.256,"color":"#000"},{"offset":0.2619,"color":"#fff"},
{"offset":0.2738,"color":"#fff"},{"offset":0.2798,"color":"#000"},{"offset":0.2857,"color":"#fff"},
{"offset":0.2976,"color":"#fff"},{"offset":0.3036,"color":"#000"},{"offset":0.3095,"color":"#fff"},
{"offset":0.3214,"color":"#fff"},{"offset":0.3274,"color":"#000"},{"offset":0.3333,"color":"#fff"},
{"offset":0.3452,"color":"#fff"},{"offset":0.3512,"color":"#000"},{"offset":0.3571,"color":"#fff"},
{"offset":0.369,"color":"#fff"},{"offset":0.375,"color":"#000"},{"offset":0.381,"color":"#fff"},
{"offset":0.3929,"color":"#fff"},{"offset":0.3988,"color":"#000"},{"offset":0.4048,"color":"#fff"},
{"offset":0.4167,"color":"#fff"},{"offset":0.4226,"color":"#000"},{"offset":0.4286,"color":"#fff"},
{"offset":0.4405,"color":"#fff"},{"offset":0.4464,"color":"#000"},{"offset":0.4524,"color":"#fff"},
{"offset":0.4643,"color":"#fff"},{"offset":0.4702,"color":"#000"},{"offset":0.4762,"color":"#fff"},
{"offset":0.4881,"color":"#fff"},{"offset":0.494,"color":"#000"},{"offset":0.5,"color":"#fff"},
{"offset":0.5119,"color":"#fff"},{"offset":0.5179,"color":"#000"},{"offset":0.5238,"color":"#fff"},
{"offset":0.5357,"color":"#fff"},{"offset":0.5417,"color":"#000"},{"offset":0.5476,"color":"#fff"},
{"offset":0.5595,"color":"#fff"},{"offset":0.5655,"color":"#000"},{"offset":0.5714,"color":"#fff"},
{"offset":0.5833,"color":"#fff"},{"offset":0.5893,"color":"#000"},{"offset":0.5952,"color":"#fff"},
{"offset":0.6071,"color":"#fff"},{"offset":0.6131,"color":"#000"},{"offset":0.619,"color":"#fff"},
{"offset":0.631,"color":"#fff"},{"offset":0.6369,"color":"#000"},{"offset":0.6429,"color":"#fff"},
{"offset":0.6548,"color":"#fff"},{"offset":0.6607,"color":"#000"},{"offset":0.6667,"color":"#fff"},
{"offset":0.6786,"color":"#fff"},{"offset":0.6845,"color":"#000"},{"offset":0.6905,"color":"#fff"},
{"offset":0.7024,"color":"#fff"},{"offset":0.7083,"color":"#000"},{"offset":0.7143,"color":"#fff"},
{"offset":0.7262,"color":"#fff"},{"offset":0.7321,"color":"#000"},{"offset":0.7381,"color":"#fff"},
{"offset":0.75,"color":"#fff"},{"offset":0.756,"color":"#000"},{"offset":0.7619,"color":"#fff"},
{"offset":0.7738,"color":"#fff"},{"offset":0.7798,"color":"#000"},{"offset":0.7857,"color":"#fff"},
{"offset":0.7976,"color":"#fff"},{"offset":0.8036,"color":"#000"},{"offset":0.8095,"color":"#fff"},
{"offset":0.8214,"color":"#fff"},{"offset":0.8274,"color":"#000"},{"offset":0.8333,"color":"#fff"},
{"offset":0.8452,"color":"#fff"},{"offset":0.8512,"color":"#000"},{"offset":0.8571,"color":"#fff"},
{"offset":0.869,"color":"#fff"},{"offset":0.875,"color":"#000"},{"offset":0.881,"color":"#fff"},
{"offset":0.8929,"color":"#fff"},{"offset":0.8988,"color":"#000"},{"offset":0.9048,"color":"#fff"},
{"offset":0.9167,"color":"#fff"},{"offset":0.9226,"color":"#000"},{"offset":0.9286,"color":"#fff"},
{"offset":0.9405,"color":"#fff"},{"offset":0.9464,"color":"#000"},{"offset":0.9524,"color":"#fff"},
{"offset":0.9643,"color":"#fff"},{"offset":0.9702,"color":"#000"},{"offset":0.9762,"color":"#fff"},
{"offset":0.9881,"color":"#fff"},{"offset":0.994,"color":"#000"},{"offset":1,"color":"#fff"}]}},
      "encoding": {"x": {"field": "c", "type": "nominal", "axis": null}, "y": {"field": "v", "type": "quantitative"}}},
     {"data": {"name": "dBars"}, "mark": {"type": "rule", "strokeWidth": 3, "color": "#000"},
      "encoding": {"x": {"field": "c", "type": "nominal", "axis": null}, "y": {"field": "v", "type": "quantitative"}, "y2": {"field": "e"}}},
     {"data": {"name": "dBars"}, "mark": {"type": "tick", "thickness": 3, "size": 38, "color": "#000"},
      "encoding": {"x": {"field": "c", "type": "nominal", "axis": null}, "y": {"field": "e", "type": "quantitative"}}},
     {"data": {"name": "dBr"}, "mark": {"type": "line", "strokeWidth": 2, "color": "#000"},
      "encoding": {"x": {"field": "c", "type": "nominal", "axis": null}, "y": {"field": "v", "type": "quantitative"}, "detail": {"field": "id"}, "order": {"field": "o", "type": "quantitative"}}},
     {"data": {"name": "dStarBr"}, "mark": {"type": "text", "baseline": "alphabetic", "dy": -3},
      "encoding": {"x": {"field": "c", "type": "nominal", "axis": null}, "y": {"field": "v", "type": "quantitative"}, "text": {"field": "t"}}},
     {"data": {"name": "dStarBar"}, "mark": {"type": "text", "baseline": "alphabetic", "dy": 0},
      "encoding": {"x": {"field": "c", "type": "nominal", "axis": {"orient": "top", "title": "Nkx2.5", "titleFontStyle": "italic", "titleFontSize": 21, "titlePadding": 58, "titleX": 157, "domain": false, "ticks": false, "labels": false}}, "y": {"field": "v", "type": "quantitative"}, "text": {"field": "t"}}}
    ]}
  ]}
 ]},
 {"bounds": "flush", "spacing": 20,
  "hconcat": [
   {"width": 348, "height": 1, "data": {"values": []}, "mark": "point"},
   {"width": 364, "height": 241.7,
    "title": {"text": "E", "dx": -17, "offset": -45},
    "resolve": {"axis": {"x": "independent"}},
    "layer": [
     {"data": {"values": [{}]}, "mark": {"type": "rule", "strokeDash": [10,6], "strokeWidth": 3, "color": "#000"}, "encoding": {"y": {"datum": 1}}},
     {"data": {"name": "eBars"}, "transform": [{"filter": "datum.c == 'BM'"}], "mark": {"type": "bar", "fill": "#999999", "stroke": "#000", "strokeWidth": 3},
      "encoding": {
       "x": {"field": "c", "type": "nominal", "scale": {"domain": ["BM","CMN","CMH"], "paddingInner": 0.345, "paddingOuter": 0.1725}, "axis": {"title": null, "tickSize": 8}},
       "y": {"field": "v", "type": "quantitative", "scale": {"domain": [0,150], "nice": false}, "axis": {"values": [0,50,100,150], "title": "mRNA expression (fold over control)", "titlePadding": 29, "tickSize": 8}}}},
     {"data": {"name": "eBars"}, "transform": [{"filter": "datum.c == 'CMN'"}],
      "mark": {"type": "bar", "fill": {"gradient": "linear", "x1": 0, "y1": 0, "x2": 1, "y2": 0, "stops": [{"offset":0,"color":"#fff"},{"offset":0.05,"color":"#fff"},{"offset":0.05,"color":"#000"},{"offset":0.1,"color":"#000"},{"offset":0.1,"color":"#fff"},{"offset":0.15,"color":"#fff"},{"offset":0.15,"color":"#000"},{"offset":0.2,"color":"#000"},{"offset":0.2,"color":"#fff"},{"offset":0.25,"color":"#fff"},{"offset":0.25,"color":"#000"},{"offset":0.3,"color":"#000"},{"offset":0.3,"color":"#fff"},{"offset":0.35,"color":"#fff"},{"offset":0.35,"color":"#000"},{"offset":0.4,"color":"#000"},{"offset":0.4,"color":"#fff"},{"offset":0.45,"color":"#fff"},{"offset":0.45,"color":"#000"},{"offset":0.5,"color":"#000"},{"offset":0.5,"color":"#fff"},{"offset":0.55,"color":"#fff"},{"offset":0.55,"color":"#000"},{"offset":0.6,"color":"#000"},{"offset":0.6,"color":"#fff"},{"offset":0.65,"color":"#fff"},{"offset":0.65,"color":"#000"},{"offset":0.7,"color":"#000"},{"offset":0.7,"color":"#fff"},{"offset":0.75,"color":"#fff"},{"offset":0.75,"color":"#000"},{"offset":0.8,"color":"#000"},{"offset":0.8,"color":"#fff"},{"offset":0.85,"color":"#fff"},{"offset":0.85,"color":"#000"},{"offset":0.9,"color":"#000"},{"offset":0.9,"color":"#fff"},{"offset":0.95,"color":"#fff"},{"offset":0.95,"color":"#000"},{"offset":1,"color":"#000"}]}},
      "encoding": {"x": {"field": "c", "type": "nominal", "axis": null}, "y": {"field": "v", "type": "quantitative"}}},
     {"data": {"name": "eBars"}, "transform": [{"filter": "datum.c == 'CMN'"}],
      "mark": {"type": "bar", "blend": "difference", "fill": {"gradient": "linear", "x1": 0, "y1": 0, "x2": 0, "y2": 1, "stops": [{"offset":0,"color":"#fff"},{"offset":0.25,"color":"#fff"},{"offset":0.25,"color":"#000"},{"offset":0.5,"color":"#000"},{"offset":0.5,"color":"#fff"},{"offset":0.75,"color":"#fff"},{"offset":0.75,"color":"#000"},{"offset":1,"color":"#000"}]}},
      "encoding": {"x": {"field": "c", "type": "nominal", "axis": null}, "y": {"field": "v", "type": "quantitative"}}},
     {"data": {"name": "eBars"}, "transform": [{"filter": "datum.c == 'CMN'"}], "mark": {"type": "bar", "fillOpacity": 0, "stroke": "#000", "strokeWidth": 3},
      "encoding": {"x": {"field": "c", "type": "nominal", "axis": null}, "y": {"field": "v", "type": "quantitative"}}},
     {"data": {"name": "eBars"}, "transform": [{"filter": "datum.c == 'CMH'"}],
      "mark": {"type": "bar", "stroke": "#000", "strokeWidth": 3, "fill": {"gradient": "linear", "x1": 0, "y1": 0, "x2": 0, "y2": 1, "stops": [{"offset":0,"color":"#fff"},
{"offset":0.0156,"color":"#fff"},{"offset":0.0234,"color":"#000"},{"offset":0.0313,"color":"#fff"},
{"offset":0.0469,"color":"#fff"},{"offset":0.0547,"color":"#000"},{"offset":0.0625,"color":"#fff"},
{"offset":0.0781,"color":"#fff"},{"offset":0.0859,"color":"#000"},{"offset":0.0938,"color":"#fff"},
{"offset":0.1094,"color":"#fff"},{"offset":0.1172,"color":"#000"},{"offset":0.125,"color":"#fff"},
{"offset":0.1406,"color":"#fff"},{"offset":0.1484,"color":"#000"},{"offset":0.1563,"color":"#fff"},
{"offset":0.1719,"color":"#fff"},{"offset":0.1797,"color":"#000"},{"offset":0.1875,"color":"#fff"},
{"offset":0.2031,"color":"#fff"},{"offset":0.2109,"color":"#000"},{"offset":0.2188,"color":"#fff"},
{"offset":0.2344,"color":"#fff"},{"offset":0.2422,"color":"#000"},{"offset":0.25,"color":"#fff"},
{"offset":0.2656,"color":"#fff"},{"offset":0.2734,"color":"#000"},{"offset":0.2813,"color":"#fff"},
{"offset":0.2969,"color":"#fff"},{"offset":0.3047,"color":"#000"},{"offset":0.3125,"color":"#fff"},
{"offset":0.3281,"color":"#fff"},{"offset":0.3359,"color":"#000"},{"offset":0.3438,"color":"#fff"},
{"offset":0.3594,"color":"#fff"},{"offset":0.3672,"color":"#000"},{"offset":0.375,"color":"#fff"},
{"offset":0.3906,"color":"#fff"},{"offset":0.3984,"color":"#000"},{"offset":0.4063,"color":"#fff"},
{"offset":0.4219,"color":"#fff"},{"offset":0.4297,"color":"#000"},{"offset":0.4375,"color":"#fff"},
{"offset":0.4531,"color":"#fff"},{"offset":0.4609,"color":"#000"},{"offset":0.4688,"color":"#fff"},
{"offset":0.4844,"color":"#fff"},{"offset":0.4922,"color":"#000"},{"offset":0.5,"color":"#fff"},
{"offset":0.5156,"color":"#fff"},{"offset":0.5234,"color":"#000"},{"offset":0.5313,"color":"#fff"},
{"offset":0.5469,"color":"#fff"},{"offset":0.5547,"color":"#000"},{"offset":0.5625,"color":"#fff"},
{"offset":0.5781,"color":"#fff"},{"offset":0.5859,"color":"#000"},{"offset":0.5938,"color":"#fff"},
{"offset":0.6094,"color":"#fff"},{"offset":0.6172,"color":"#000"},{"offset":0.625,"color":"#fff"},
{"offset":0.6406,"color":"#fff"},{"offset":0.6484,"color":"#000"},{"offset":0.6563,"color":"#fff"},
{"offset":0.6719,"color":"#fff"},{"offset":0.6797,"color":"#000"},{"offset":0.6875,"color":"#fff"},
{"offset":0.7031,"color":"#fff"},{"offset":0.7109,"color":"#000"},{"offset":0.7188,"color":"#fff"},
{"offset":0.7344,"color":"#fff"},{"offset":0.7422,"color":"#000"},{"offset":0.75,"color":"#fff"},
{"offset":0.7656,"color":"#fff"},{"offset":0.7734,"color":"#000"},{"offset":0.7813,"color":"#fff"},
{"offset":0.7969,"color":"#fff"},{"offset":0.8047,"color":"#000"},{"offset":0.8125,"color":"#fff"},
{"offset":0.8281,"color":"#fff"},{"offset":0.8359,"color":"#000"},{"offset":0.8438,"color":"#fff"},
{"offset":0.8594,"color":"#fff"},{"offset":0.8672,"color":"#000"},{"offset":0.875,"color":"#fff"},
{"offset":0.8906,"color":"#fff"},{"offset":0.8984,"color":"#000"},{"offset":0.9063,"color":"#fff"},
{"offset":0.9219,"color":"#fff"},{"offset":0.9297,"color":"#000"},{"offset":0.9375,"color":"#fff"},
{"offset":0.9531,"color":"#fff"},{"offset":0.9609,"color":"#000"},{"offset":0.9688,"color":"#fff"},
{"offset":0.9844,"color":"#fff"},{"offset":0.9922,"color":"#000"},{"offset":1,"color":"#fff"}]}},
      "encoding": {"x": {"field": "c", "type": "nominal", "axis": null}, "y": {"field": "v", "type": "quantitative"}}},
     {"data": {"name": "eBars"}, "mark": {"type": "rule", "strokeWidth": 3, "color": "#000"},
      "encoding": {"x": {"field": "c", "type": "nominal", "axis": null}, "y": {"field": "v", "type": "quantitative"}, "y2": {"field": "e"}}},
     {"data": {"name": "eBars"}, "mark": {"type": "tick", "thickness": 3, "size": 42, "color": "#000"},
      "encoding": {"x": {"field": "c", "type": "nominal", "axis": null}, "y": {"field": "e", "type": "quantitative"}}},
     {"data": {"name": "eBr"}, "mark": {"type": "line", "strokeWidth": 2, "color": "#000"},
      "encoding": {"x": {"field": "c", "type": "nominal", "axis": null}, "y": {"field": "v", "type": "quantitative"}, "detail": {"field": "id"}, "order": {"field": "o", "type": "quantitative"}}},
     {"data": {"name": "eStarBr"}, "mark": {"type": "text", "baseline": "alphabetic", "dy": -3},
      "encoding": {"x": {"field": "c", "type": "nominal", "axis": null}, "y": {"field": "v", "type": "quantitative"}, "text": {"field": "t"}}},
     {"data": {"name": "eStarBar"}, "mark": {"type": "text", "baseline": "alphabetic", "dy": 0},
      "encoding": {"x": {"field": "c", "type": "nominal", "axis": {"orient": "top", "title": "Myh6", "titleFontStyle": "italic", "titleFontSize": 21, "titlePadding": 36, "titleX": 164, "domain": false, "ticks": false, "labels": false}}, "y": {"field": "v", "type": "quantitative"}, "text": {"field": "t"}}}
    ]}
  ]}
]
}
